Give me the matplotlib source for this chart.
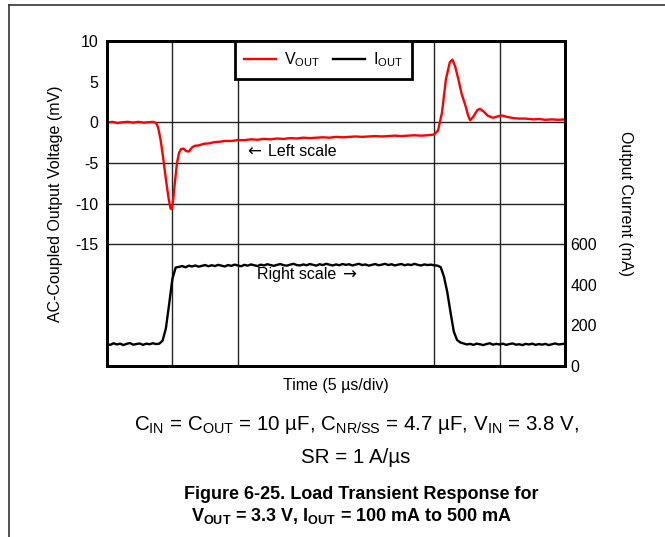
import numpy as np
import matplotlib
matplotlib.use("Agg")
import matplotlib.pyplot as plt
from matplotlib.lines import Line2D

plt.rcParams['font.family'] = ['Liberation Sans', 'DejaVu Sans']
plt.rcParams['mathtext.fontset'] = 'custom'
plt.rcParams['mathtext.rm'] = 'Liberation Sans'
plt.rcParams['mathtext.bf'] = 'Liberation Sans:bold'
plt.rcParams['mathtext.default'] = 'regular'
plt.rcParams['axes.unicode_minus'] = False

# output voltage (AC coupled), mV vs time in us
vout_t = [0, 0.4, 0.8, 1.2, 1.6, 2.0, 2.4, 2.8, 3.2, 3.5, 3.75,
          3.9, 4.1, 4.3, 4.5, 4.7, 4.85, 4.95, 5.05, 5.2, 5.35,
          5.5, 5.65, 5.85, 6.05, 6.25, 6.5, 6.7, 7.0, 7.4, 7.8,
          8.2, 8.6, 9.0, 9.5, 10, 10.5, 11, 11.5, 12, 12.5,
          13, 13.5, 14, 14.5, 15, 15.5, 16, 16.5, 17, 17.5,
          18, 18.5, 19, 19.5, 20, 20.5, 21, 21.5, 22, 22.5,
          23, 23.5, 24, 24.5, 24.8, 25.0, 25.3, 25.6, 25.9, 26.2,
          26.4, 26.6, 26.85, 27.1, 27.4, 27.6, 27.75, 28.0, 28.3, 28.5,
          28.8, 29.1, 29.5, 29.8, 30.2, 30.6, 31.1, 31.5, 32.0, 32.6,
          33.0, 33.5, 34.0, 34.5, 35.0]
vout_mv = [-0.05, 0.05, -0.1, 0.0, 0.05, -0.05, 0.05, -0.05, 0.0, 0.05, -0.1,
           -0.6, -2.2, -4.5, -7.0, -9.3, -10.6, -10.7, -9.6, -7.2, -5.0,
           -3.8, -3.3, -3.25, -3.55, -3.6, -3.1, -2.9, -2.85, -2.65, -2.6,
           -2.45, -2.4, -2.3, -2.3, -2.2, -2.2, -2.1, -2.15, -2.05, -2.1,
           -2.0, -2.05, -1.95, -2.0, -1.9, -1.95, -1.9, -1.85, -1.9, -1.8,
           -1.85, -1.8, -1.75, -1.8, -1.75, -1.7, -1.75, -1.7, -1.65, -1.7,
           -1.65, -1.6, -1.65, -1.6, -1.55, -1.5, -1.0, 1.2, 5.3, 7.4,
           7.7, 6.9, 5.3, 3.5, 2.0, 0.8, 0.25, 0.7, 1.5, 1.65,
           1.3, 0.8, 0.55, 0.7, 0.83, 0.65, 0.5, 0.45, 0.45, 0.35,
           0.4, 0.3, 0.35, 0.3, 0.35]

# output current, mA, one reading every 0.25 us
iout_step = 0.25
iout_ma = [108, 104, 112, 106, 110, 103, 109, 113, 105, 108, 111, 104, 110, 107, 112, 108,
           110, 125, 185, 305, 430, 485,
           488, 492, 486, 494, 490, 495, 489, 493, 497, 491,
           496, 492, 498, 494, 490, 497, 493, 499, 495, 491,
           498, 494, 500, 496, 492, 499, 495, 501, 497, 493,
           498, 502, 496, 494, 499, 503, 497, 495, 500, 496,
           502, 498, 494, 501, 497, 503, 499, 495, 500, 496,
           502, 498, 501, 495, 499, 503, 497, 500, 494, 498,
           502, 496, 499, 503, 497, 501, 495, 499, 502, 496,
           500, 497, 503, 498, 495, 500, 497, 499, 496,
           494, 487, 440, 365, 265, 170, 128, 116,
           111, 106, 109, 104, 110, 107, 103, 108, 112, 105,
           109, 106, 110, 104, 108, 111, 105, 107, 103, 109,
           106, 110, 104, 108, 105, 109, 103, 107, 111, 106,
           108, 110]
iout_t = np.arange(len(iout_ma)) * iout_step

v_ticks = [10, 5, 0, -5, -10, -15]
i_ticks = [0, 200, 400, 600]
grid_t = [5, 10, 25, 30]
grid_v = [0, -5, -10, -15]

fig = plt.figure(figsize=(6.65, 5.37), dpi=100)
ax = fig.add_axes([107/665, 1 - 366/537, 458/665, 325/537])
ax2 = ax.twinx()

for t in grid_t:
    ax.axvline(t, color='#222222', lw=1.0, zorder=1)
for v in grid_v:
    ax.axhline(v, color='#222222', lw=1.0, zorder=1)

ax.plot(vout_t, vout_mv, color='#ff0000', lw=1.7, zorder=3)
ax2.plot(iout_t, iout_ma, color='black', lw=1.7, zorder=3)

ax.set_xlim(0, 35)
ax.set_ylim(-30, 10)
ax2.set_ylim(0, 1600)
ax.set_xticks([])
ax.set_yticks(v_ticks)
ax2.set_yticks(i_ticks)
ax.tick_params(axis='y', length=0, pad=6, labelsize=11.5)
ax2.tick_params(axis='y', length=0, pad=4, labelsize=11.5)
for a in (ax, ax2):
    for s in a.spines.values():
        s.set_linewidth(2.0)
        s.set_color('black')

ax.text(-0.1114, 0.5, 'AC-Coupled Output Voltage (mV)', transform=ax.transAxes,
        rotation=90, ha='center', va='center', fontsize=11.5)
ax.text(1.133, 0.5, 'Output Current (mA)', transform=ax.transAxes,
        rotation=270, ha='center', va='center', fontsize=11.5)
ax.text(0.5, -0.0585, 'Time (5 µs/div)', transform=ax.transAxes,
        ha='center', va='center', fontsize=11.5)

# scale hints, arrows drawn in DejaVu for a longer glyph
ax.text(10.75, -3.6, '←', family='DejaVu Sans', ha='left', va='center', fontsize=12, zorder=4)
ax.text(12.3, -3.6, 'Left scale', ha='left', va='center', fontsize=11.5, zorder=4)
ax.text(11.46, -18.8, 'Right scale', ha='left', va='center', fontsize=11.5, zorder=4)
ax.text(17.95, -18.8, '→', family='DejaVu Sans', ha='left', va='center', fontsize=12, zorder=4)

handles = [Line2D([], [], color='#ff0000', lw=1.7), Line2D([], [], color='black', lw=1.7)]
leg = ax2.legend(handles, [r'V$_{OUT}$', r'I$_{OUT}$'], ncol=2, loc='upper center',
                 bbox_to_anchor=(0.4727, 1.0), borderaxespad=0, fontsize=11.5,
                 handlelength=2.0, handletextpad=0.5, columnspacing=0.8,
                 borderpad=0.6, fancybox=False, framealpha=1)
leg.get_frame().set_edgecolor('black')
leg.get_frame().set_linewidth(2.0)
leg.set_zorder(10)

fig.text(357/665, 1 - 430/537,
         r'C$_{IN}$ = C$_{OUT}$ = 10 µF, C$_{NR/SS}$ = 4.7 µF, V$_{IN}$ = 3.8 V,',
         ha='center', va='baseline', fontsize=14.8)
fig.text(356/665, 1 - 463/537, 'SR = 1 A/µs', ha='center', va='baseline', fontsize=14.8)
fig.text(361/665, 1 - 499/537, 'Figure 6-25. Load Transient Response for',
         ha='center', va='baseline', fontsize=13, fontweight='bold')
fig.text(352/665, 1 - 521/537, r'V$_{OUT}$ = 3.3 V, I$_{OUT}$ = 100 mA to 500 mA',
         ha='center', va='baseline', fontsize=13, fontweight='bold')

# page frame lines
fig.add_artist(Line2D([9/665, 9/665], [0, 1 - 5/537], transform=fig.transFigure,
                      color='#333333', lw=1.2))
fig.add_artist(Line2D([9/665, 1], [1 - 5/537, 1 - 5/537], transform=fig.transFigure,
                      color='#333333', lw=1.2))

fig.savefig('out.png', dpi=100)
